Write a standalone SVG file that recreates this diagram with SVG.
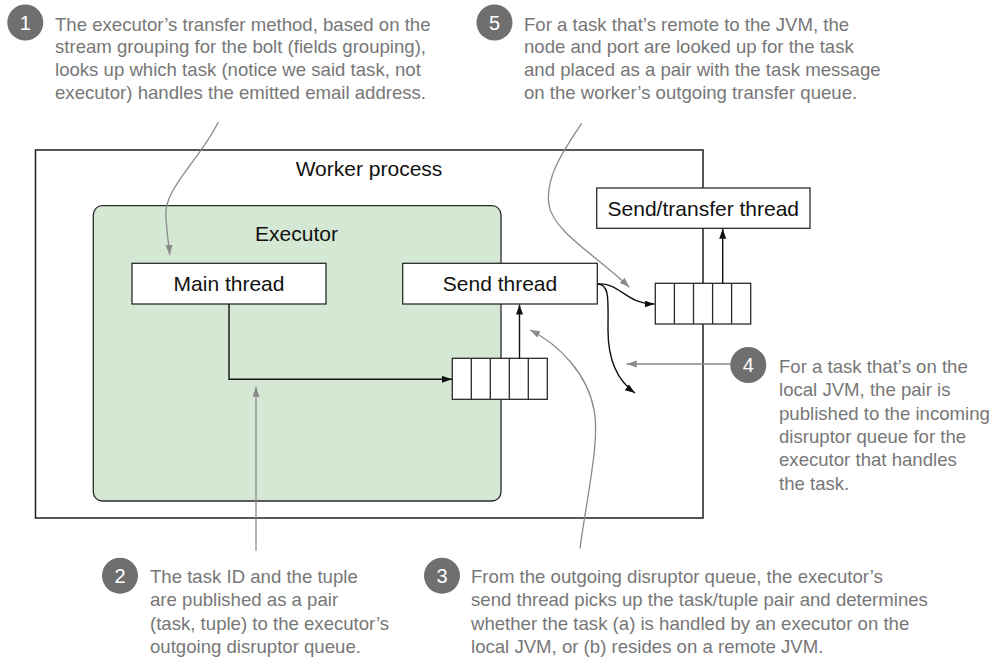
<svg xmlns="http://www.w3.org/2000/svg" width="997" height="658" viewBox="0 0 997 658">
<defs>
<style>
.box{fill:#ffffff;stroke:#2b2b2b;stroke-width:1.3}
.worker{fill:#ffffff;stroke:#1f1f1f;stroke-width:1.5}
.exec{fill:#d5e8d4;stroke:#2b2b2b;stroke-width:1.3}
.lbl{font-family:"Liberation Sans",Arial,sans-serif;font-size:21px;fill:#111;text-anchor:middle}
.note{font-family:"Liberation Sans",Arial,sans-serif;font-size:18.6px;fill:#777777}
.num{font-family:"Liberation Sans",Arial,sans-serif;font-size:20px;fill:#ffffff;text-anchor:middle}
.badge{fill:#6f6f6f}
.cell{stroke:#2b2b2b;stroke-width:1.3;fill:none}
.blk{fill:none;stroke:#111;stroke-width:1.4}
.gry{fill:none;stroke:#8a8a8a;stroke-width:1.3}
</style>
<marker id="ab" markerUnits="userSpaceOnUse" markerWidth="11" markerHeight="8" refX="10" refY="3.5" orient="auto">
<path d="M0,0 L10,3.5 L0,7 z" fill="#111"/>
</marker>
<marker id="ag" markerUnits="userSpaceOnUse" markerWidth="11" markerHeight="8" refX="10" refY="3.5" orient="auto">
<path d="M0,0 L10,3.5 L0,7 z" fill="#8a8a8a"/>
</marker>
</defs>

<g id="worker-process">
<rect class="worker" x="35.5" y="150" width="667.5" height="368"/>
<text class="lbl" x="369" y="176">Worker process</text>
</g>

<g id="executor">
<rect class="exec" x="93.3" y="205.7" width="407.7" height="295.3" rx="9"/>
<text class="lbl" x="296.5" y="241">Executor</text>
</g>

<g id="main-thread">
<rect class="box" x="132" y="263.3" width="194" height="40.7"/>
<text class="lbl" x="229" y="291">Main thread</text>
</g>

<g id="send-thread">
<rect class="box" x="402.7" y="263.3" width="194.6" height="40.7"/>
<text class="lbl" x="500" y="291">Send thread</text>
</g>

<g id="send-transfer-thread">
<rect class="box" x="596.7" y="188" width="213.3" height="40.3"/>
<text class="lbl" x="703.3" y="215.5">Send/transfer thread</text>
</g>

<g id="executor-queue">
<rect class="box" x="452.3" y="358.3" width="95" height="41"/>
<path class="cell" d="M471.3,358.3V399.3M490.3,358.3V399.3M509.3,358.3V399.3M528.3,358.3V399.3"/>
</g>

<g id="transfer-queue">
<rect class="box" x="655.3" y="283.3" width="95.4" height="40.7"/>
<path class="cell" d="M674.4,283.3V324M693.5,283.3V324M712.6,283.3V324M731.6,283.3V324"/>
</g>

<g id="connectors">
<path class="blk" d="M229,304 V379.3 H452" marker-end="url(#ab)"/>
<path class="blk" d="M519.5,358.3 V304.5" marker-end="url(#ab)"/>
<path class="blk" d="M722.7,283.3 V228.8" marker-end="url(#ab)"/>
<path class="blk" d="M597.3,284 C620,282 625,304 654.5,304" marker-end="url(#ab)"/>
<path class="blk" d="M597.3,284 C610,284 608,300 608,330 C608,362 618,381 635,393" marker-end="url(#ab)"/>
<path class="gry" d="M218.3,122 C200,160 162,190 166,218 C167,235 169,245 169.7,255" marker-end="url(#ag)"/>
<path class="gry" d="M581.7,123.3 C560,155 545,180 549,205 C553,232 600,258 629.3,287.3" marker-end="url(#ag)"/>
<path class="gry" d="M256,550.7 V386.7" marker-end="url(#ag)"/>
<path class="gry" d="M580,548.3 C588,490 600,440 594,410 C588,375 560,345 530,330" marker-end="url(#ag)"/>
<path class="gry" d="M748,364 H626.7" marker-end="url(#ag)"/>
</g>

<g id="callout-1">
<circle class="badge" cx="25.3" cy="22.5" r="18"/>
<text class="num" x="25.3" y="29.5">1</text>
<text class="note" x="55" y="30.5">The executor’s transfer method, based on the<tspan x="55" dy="22.8">stream grouping for the bolt (fields grouping),</tspan><tspan x="55" dy="22.8">looks up which task (notice we said task, not</tspan><tspan x="55" dy="22.8">executor) handles the emitted email address.</tspan></text>
</g>

<g id="callout-5">
<circle class="badge" cx="494.5" cy="22.5" r="18"/>
<text class="num" x="494.5" y="29.5">5</text>
<text class="note" x="524" y="30.5">For a task that’s remote to the JVM, the<tspan x="524" dy="22.8">node and port are looked up for the task</tspan><tspan x="524" dy="22.8">and placed as a pair with the task message</tspan><tspan x="524" dy="22.8">on the worker’s outgoing transfer queue.</tspan></text>
</g>

<g id="callout-4">
<circle class="badge" cx="748.3" cy="365" r="18"/>
<text class="num" x="748.3" y="372">4</text>
<text class="note" x="779" y="373">For a task that’s on the<tspan x="779" dy="23.3">local JVM, the pair is</tspan><tspan x="779" dy="23.3">published to the incoming</tspan><tspan x="779" dy="23.3">disruptor queue for the</tspan><tspan x="779" dy="23.3">executor that handles</tspan><tspan x="779" dy="23.3">the task.</tspan></text>
</g>

<g id="callout-2">
<circle class="badge" cx="120" cy="575.7" r="18"/>
<text class="num" x="120" y="582.7">2</text>
<text class="note" x="150" y="583">The task ID and the tuple<tspan x="150" dy="23.3">are published as a pair</tspan><tspan x="150" dy="23.3">(task, tuple) to the executor’s</tspan><tspan x="150" dy="23.3">outgoing disruptor queue.</tspan></text>
</g>

<g id="callout-3">
<circle class="badge" cx="442" cy="575.7" r="18"/>
<text class="num" x="442" y="582.7">3</text>
<text class="note" x="471" y="583">From the outgoing disruptor queue, the executor’s<tspan x="471" dy="23.3">send thread picks up the task/tuple pair and determines</tspan><tspan x="471" dy="23.3">whether the task (a) is handled by an executor on the</tspan><tspan x="471" dy="23.3">local JVM, or (b) resides on a remote JVM.</tspan></text>
</g>
</svg>
